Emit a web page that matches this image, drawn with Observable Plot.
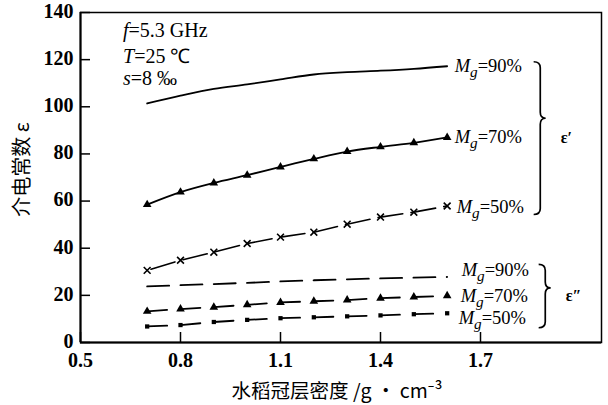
<!DOCTYPE html>
<html><head><meta charset="utf-8">
<script src="https://cdn.jsdelivr.net/npm/d3@7"></script>
<script src="https://cdn.jsdelivr.net/npm/@observablehq/plot@0.6"></script>
<style>
body{margin:0;background:#fff;}
#chart svg{display:block;}
</style></head><body><div id="chart"></div>
<script>
// ---- data ----
const density = [0.7, 0.8, 0.9, 1.0, 1.1, 1.2, 1.3, 1.4, 1.5, 1.6];
const realMg90 = [101.4, 104.7, 107.6, 109.5, 111.6, 113.7, 114.7, 115.3, 116.1, 117.2];
const realMg70 = [58.5, 63.8, 67.7, 71.0, 74.5, 77.9, 81.0, 83.0, 84.7, 87.0];
const realMg50 = [30.6, 34.9, 38.3, 42.0, 44.7, 46.8, 50.2, 53.2, 55.3, 57.9];
const imagMg90 = [23.8, 24.3, 24.8, 25.3, 25.9, 26.4, 26.8, 27.2, 27.5, 27.8];
const imagMg70 = [13.2, 14.2, 15.0, 16.0, 17.0, 17.5, 18.0, 18.8, 19.3, 19.8];
const imagMg50 = [6.8, 7.4, 8.7, 9.6, 10.3, 10.7, 11.1, 11.5, 12.0, 12.4];
const moistureLabels = ["=90%", "=70%", "=50%"];
const groupLabels = ["ε′", "ε″"];
const condSymbols = ["f", "T", "s"];
const condValues = ["=5.3 GHz", "=25 ℃", "=8 ‰"];
const xTicks = [0.5, 0.8, 1.1, 1.4, 1.7];
const yTicks = [0, 20, 40, 60, 80, 100, 120, 140];
const xLabel = "水稻冠层密度 /g · cm⁻³";
const yLabel = "介电常数 ε";

const serif = "Liberation Serif, Times New Roman, serif";
const cjk = "Noto Sans CJK SC, Noto Sans, sans-serif";
const rows = vals => density.map((d, i) => ({x: d, y: vals[i]}));
const last = vals => ({x: density[density.length - 1], y: vals[vals.length - 1]});

function richText(g, x, y, parts, size) {
  const t = g.append("text").attr("x", x).attr("y", y).attr("font-size", size)
    .attr("font-family", serif).attr("fill", "black").attr("text-anchor", "start");
  for (const p of parts) {
    const s = t.append("tspan").text(p.t);
    if (p.i) s.attr("font-style", "italic");
    if (p.sub) s.attr("font-size", size * 0.82).attr("dy", size * 0.27);
    if (p.up) s.attr("dy", -size * 0.27);
  }
}
function mgParts(label) {
  return [{t: "M", i: true}, {t: "g", i: true, sub: true}, {t: label, up: true}];
}
function bracePath(x0, y1, y2, w, f) {
  const xm = x0 + w * 0.55, xt = x0 + w, ym = y1 + (y2 - y1) * f, r = 6;
  return `M${x0},${y1} Q${xm},${y1} ${xm},${y1 + r} L${xm},${ym - r} Q${xm},${ym} ${xt},${ym} ` +
         `Q${xm},${ym} ${xm},${ym + r} L${xm},${y2 - r} Q${xm},${y2} ${x0},${y2}`;
}

// annotation layer (labels, braces, conditions) positioned through the plot scales
function annotations(index, scales, values, dims) {
  const X = scales.x, Y = scales.y;
  const g = d3.create("svg:g").attr("text-anchor", "start");
  const base = [25, 51, 73];
  condSymbols.forEach((s, i) => {
    richText(g, dims.marginLeft + 43, dims.marginTop + base[i], [{t: s, i: true}, {t: condValues[i]}], 20);
  });
  const specs = [
    [realMg90, 0, 8, 6], [realMg70, 1, 8, 6], [realMg50, 2, 10, 7],
    [imagMg90, 0, 15, 0], [imagMg70, 1, 14, 7], [imagMg50, 2, 12, 11]
  ];
  for (const [vals, k, dx, dy] of specs) {
    const p = last(vals);
    richText(g, X(p.x) + dx, Y(p.y) + dy, mgParts(moistureLabels[k]), 18.5);
  }
  const xr = X(last(realMg90).x);
  const b1 = [Y(last(realMg90).y) - 4, Y(last(realMg50).y) + 9];
  const b2 = [Y(last(imagMg90).y) - 12, Y(last(imagMg50).y) + 15];
  [[b1, 87, 0], [b2, 92, 1]].forEach(([b, off, k]) => {
    g.append("path").attr("d", bracePath(xr + off, b[0], b[1], 12, 0.37))
      .attr("fill", "none").attr("stroke", "black").attr("stroke-width", 1.7);
    g.append("text").attr("x", xr + off + 27).attr("y", (b[0] + b[1]) / 2 + 5)
      .attr("font-family", serif).attr("font-size", 16).attr("font-weight", "bold")
      .text(groupLabels[k]);
  });
  return g.node();
}

const chart = Plot.plot({
  width: 608, height: 405,
  marginLeft: 80, marginRight: 7, marginTop: 12, marginBottom: 63,
  x: {domain: [0.5, 2.063]},
  y: {domain: [0, 140]},
  style: {fontFamily: serif, fontSize: "20px", background: "white", color: "black"},
  marks: [
    Plot.frame({stroke: "black", strokeWidth: 1.5}),
    Plot.ruleX([0.5], {stroke: "black", strokeWidth: 2}),
    Plot.ruleY([0], {stroke: "black", strokeWidth: 2}),
    Plot.axisY(yTicks, {tickSize: 10, dx: 10, tickFormat: () => "", label: null, strokeWidth: 1.5}),
    Plot.axisX(xTicks, {tickSize: 10, dy: -10, tickFormat: () => "", label: null, strokeWidth: 1.5}),
    Plot.axisY(yTicks, {tickSize: 0, tickPadding: 7, dy: -1, label: null, fontSize: 20, fontWeight: "bold", fontFamily: serif}),
    Plot.axisX(xTicks, {tickSize: 0, tickPadding: 10, tickFormat: d3.format(".1f"), label: null, fontSize: 20, fontWeight: "bold", fontFamily: serif}),
    Plot.line(rows(realMg90), {x: "x", y: "y", stroke: "black", strokeWidth: 1.8, curve: "monotone-x"}),
    Plot.line(rows(realMg70), {x: "x", y: "y", stroke: "black", strokeWidth: 1.8, curve: "monotone-x"}),
    Plot.dot(rows(realMg70), {x: "x", y: "y", symbol: "triangle", r: 3.2, fill: "black"}),
    Plot.line(rows(realMg50), {x: "x", y: "y", stroke: "black", strokeWidth: 1.6, strokeDasharray: "25 8.3", strokeDashoffset: -4}),
    Plot.dot(rows(realMg50), {x: "x", y: "y", symbol: "times", r: 3.2, stroke: "black", strokeWidth: 1.6}),
    Plot.line(rows(imagMg90), {x: "x", y: "y", stroke: "black", strokeWidth: 1.8, strokeDasharray: "22 11.3"}),
    Plot.line(rows(imagMg70), {x: "x", y: "y", stroke: "black", strokeWidth: 1.8, strokeDasharray: "20 13.3"}),
    Plot.dot(rows(imagMg70), {x: "x", y: "y", symbol: "triangle", r: 3.2, fill: "black"}),
    Plot.line(rows(imagMg50), {x: "x", y: "y", stroke: "black", strokeWidth: 1.8, strokeDasharray: "20 13.3"}),
    Plot.dot(rows(imagMg50), {x: "x", y: "y", symbol: "square", r: 2.4, fill: "black"}),
    Plot.text([yLabel], {text: d => d, frameAnchor: "left", textAnchor: "middle", rotate: -90, dx: -58, dy: -8, fontSize: 20, fontFamily: cjk}),
    Plot.text([xLabel], {text: d => d, frameAnchor: "bottom", textAnchor: "middle", lineAnchor: "middle", dy: 49, dx: -4, fontSize: 19.5, fontFamily: cjk}),
    annotations
  ]
});
document.getElementById("chart").appendChild(chart);
</script></body></html>
